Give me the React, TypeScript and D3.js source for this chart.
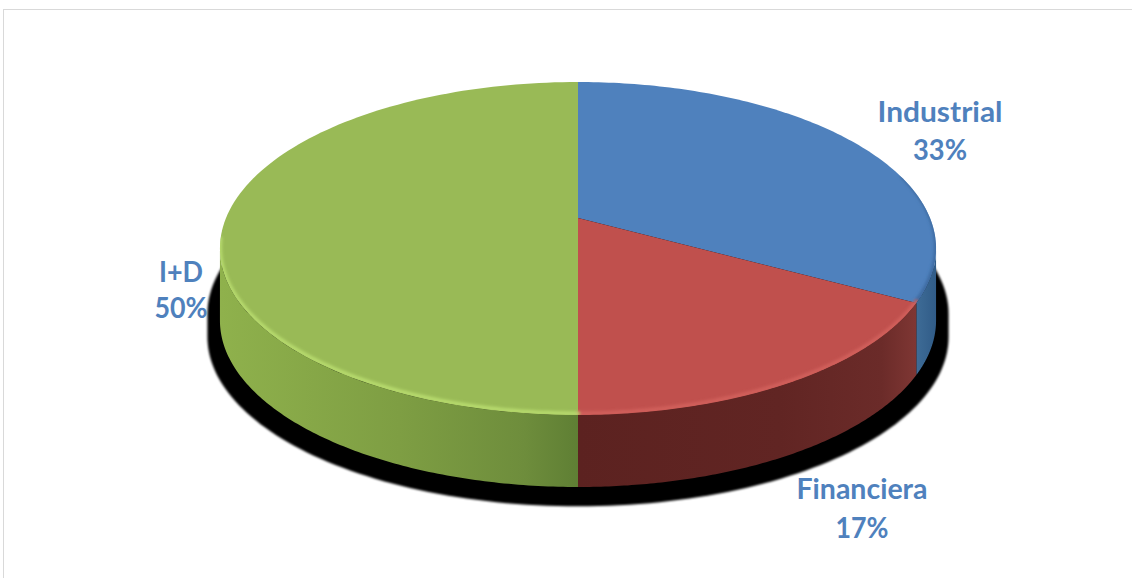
import React from 'react';
import * as d3 from 'd3';

const categories = ['Industrial', 'Financiera', 'I+D'];
const values = [33, 17, 50];
const percentLabels = ['33%', '17%', '50%'];

const W = 1132;
const H = 578;
const CX = 578;
const CY = 218;
const SR = 352;
const TR = 160.9;
const U = 0.1832;
const DEPTH = 72;

const topColors = ['#4F81BD', '#C0504D', '#99BA56'];
const rimColors = ['#3D6AA0', '#D2605C', '#B8DC6E'];

const labelLayout = [
  { x: 940, y1: 122, y2: 160, w1: 125, w2: 54 },
  { x: 862, y1: 499, y2: 538, w1: 131, w2: 53 },
  { x: 181, y1: 282, y2: 318, w1: 44, w2: 53 },
];

function proj(theta: number, dy = 0): [number, number] {
  const c = Math.cos(theta);
  const s = Math.sin(theta);
  const w = 1 + U * c;
  return [CX + (SR * s) / w, CY - (TR * c) / w + dy];
}

function arcPts(a: number, b: number, dy = 0, n = 120): [number, number][] {
  const pts: [number, number][] = [];
  for (let i = 0; i <= n; i++) pts.push(proj(a + ((b - a) * i) / n, dy));
  return pts;
}

const TMAX = Math.acos(-U);
const line = d3.line<[number, number]>();

export default function App() {
  const arcs = d3.pie<number>().sort(null).value((d) => d)(values);

  const shadowPts = arcPts(2 * Math.PI - TMAX, 2 * Math.PI + TMAX, 50)
    .concat(arcPts(TMAX, 2 * Math.PI - TMAX, DEPTH))
    .map(([x, y]) => [CX + 1.035 * (x - CX), CY + 1.02 * (y - CY) + 14] as [number, number]);

  const sides = arcs.map((a, i) => {
    const lo = Math.max(a.startAngle, TMAX);
    const hi = Math.min(a.endAngle, 2 * Math.PI - TMAX);
    if (lo >= hi) return null;
    const pts = arcPts(lo, hi, 0).concat(arcPts(hi, lo, DEPTH));
    return { i, d: line(pts) + 'Z' };
  });

  const rims = arcs.map((a, i) => {
    const lo = Math.max(a.startAngle, TMAX - 0.45);
    const hi = Math.min(a.endAngle, 2 * Math.PI - TMAX + 0.05);
    if (lo >= hi) return null;
    return { i, d: line(arcPts(lo, hi, -1.5)) };
  });

  const tops = arcs.map((a, i) => ({
    i,
    d: line([[CX, CY] as [number, number]].concat(arcPts(a.startAngle, a.endAngle, 0))) + 'Z',
  }));

  const sideFill = ['url(#gBlue)', 'url(#gRed)', 'url(#gGreen)'];

  return (
    <svg width={W} height={H} style={{ position: 'absolute', left: 0, top: 0, background: '#fff' }}>
      <defs>
        <filter id="blurS" x="-10%" y="-10%" width="120%" height="120%">
          <feGaussianBlur stdDeviation="1.2" />
        </filter>
        <filter id="blurR" x="-50%" y="-50%" width="200%" height="200%">
          <feGaussianBlur stdDeviation="1.5" />
        </filter>
        <clipPath id="clipPie">
          <path d={line(arcPts(0, 2 * Math.PI, 0)) + 'Z'} />
        </clipPath>
        <linearGradient id="gGreen" gradientUnits="userSpaceOnUse" x1={220} y1={0} x2={578} y2={0}>
          <stop offset="0" stopColor="#8FB14C" />
          <stop offset="0.5" stopColor="#7E9E43" />
          <stop offset="0.85" stopColor="#6E8D3C" />
          <stop offset="1" stopColor="#5F7F34" />
        </linearGradient>
        <linearGradient id="gRed" gradientUnits="userSpaceOnUse" x1={578} y1={0} x2={915} y2={0}>
          <stop offset="0" stopColor="#5C2220" />
          <stop offset="0.6" stopColor="#612523" />
          <stop offset="0.9" stopColor="#6B2B29" />
          <stop offset="1" stopColor="#7E3633" />
        </linearGradient>
        <linearGradient id="gBlue" gradientUnits="userSpaceOnUse" x1={905} y1={0} x2={938} y2={0}>
          <stop offset="0" stopColor="#46759F" />
          <stop offset="1" stopColor="#2F5A86" />
        </linearGradient>
      </defs>

      <rect x={3.5} y={9.5} width={W + 20} height={H + 20} fill="none" stroke="#D9D9D9" strokeWidth={1} />

      <path d={line(shadowPts) + 'Z'} fill="#000" filter="url(#blurS)" />

      {sides.map((s) => (s ? <path key={'s' + s.i} d={s.d} fill={sideFill[s.i]} /> : null))}

      {tops.map((t) => (
        <path key={'t' + t.i} d={t.d} fill={topColors[t.i]} />
      ))}

      <g clipPath="url(#clipPie)">
        {rims.map((r) =>
          r ? (
            <path
              key={'r' + r.i}
              d={r.d!}
              fill="none"
              stroke={rimColors[r.i]}
              strokeWidth={4}
              filter="url(#blurR)"
              strokeLinecap="round"
            />
          ) : null
        )}
      </g>

      {categories.map((c, i) => {
        const L = labelLayout[i];
        return (
          <g key={'l' + i} fill="#4F81BD" fontFamily="Lato, 'Open Sans', sans-serif" fontWeight="bold" fontSize={28} textAnchor="middle">
            <text x={L.x} y={L.y1} textLength={L.w1} lengthAdjust="spacingAndGlyphs">{c}</text>
            <text x={L.x} y={L.y2} textLength={L.w2} lengthAdjust="spacingAndGlyphs">{percentLabels[i]}</text>
          </g>
        );
      })}
    </svg>
  );
}
